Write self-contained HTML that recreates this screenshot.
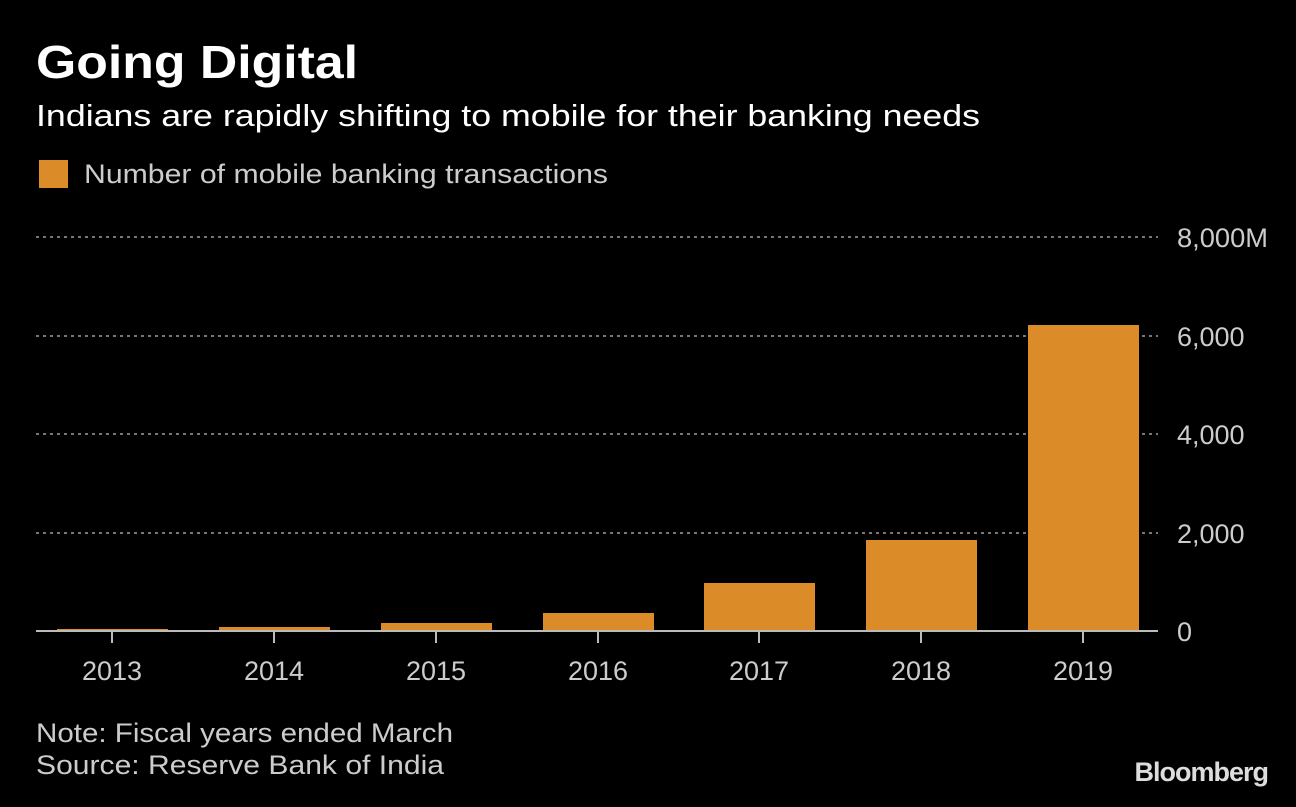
<!DOCTYPE html>
<html><head><style>
body{margin:0;background:#000;width:1296px;height:802px;overflow:hidden;font-family:"Liberation Sans",sans-serif;color:#ddd}
</style></head><body>
<svg width="1296" height="802" xmlns="http://www.w3.org/2000/svg" font-family="Liberation Sans, sans-serif">
<rect width="1296" height="802" fill="#000"/>
<text x="36" y="78" font-size="46" font-weight="bold" fill="#fff" textLength="322" lengthAdjust="spacingAndGlyphs">Going Digital</text>
<text x="36" y="126" font-size="31" fill="#fff" textLength="944" lengthAdjust="spacingAndGlyphs">Indians are rapidly shifting to mobile for their banking needs</text>
<rect x="39" y="160" width="29" height="28" fill="#db8b27"/>
<text x="84" y="183" font-size="27" fill="#ccc" textLength="524" lengthAdjust="spacingAndGlyphs">Number of mobile banking transactions</text>
<g stroke="#777" stroke-width="2" stroke-dasharray="3,4">
<line x1="36" y1="237" x2="1158" y2="237"/>
<line x1="36" y1="336" x2="1158" y2="336"/>
<line x1="36" y1="434" x2="1158" y2="434"/>
<line x1="36" y1="533" x2="1158" y2="533"/>
</g>
<g font-size="27" fill="#ccc">
<text x="1177" y="247" textLength="91" lengthAdjust="spacingAndGlyphs">8,000M</text>
<text x="1177" y="346">6,000</text>
<text x="1177" y="444">4,000</text>
<text x="1177" y="543">2,000</text>
<text x="1177" y="641">0</text>
</g>
<g fill="#db8b27">
<rect x="57" y="629" width="111" height="2"/>
<rect x="219" y="627" width="111" height="4"/>
<rect x="381" y="623" width="111" height="8"/>
<rect x="543" y="613" width="111" height="18"/>
<rect x="704" y="583" width="111" height="48"/>
<rect x="866" y="540" width="111" height="91"/>
<rect x="1028" y="325" width="111" height="306"/>
</g>
<line x1="36" y1="631" x2="1158" y2="631" stroke="#bbb" stroke-width="2"/>
<g stroke="#bbb" stroke-width="2">
<line x1="112" y1="631" x2="112" y2="643"/><line x1="274" y1="631" x2="274" y2="643"/>
<line x1="436" y1="631" x2="436" y2="643"/><line x1="598" y1="631" x2="598" y2="643"/>
<line x1="759" y1="631" x2="759" y2="643"/><line x1="921" y1="631" x2="921" y2="643"/>
<line x1="1083" y1="631" x2="1083" y2="643"/>
</g>
<g font-size="27" fill="#ccc" text-anchor="middle">
<text x="112" y="680">2013</text><text x="274" y="680">2014</text><text x="436" y="680">2015</text>
<text x="598" y="680">2016</text><text x="759" y="680">2017</text><text x="921" y="680">2018</text>
<text x="1083" y="680">2019</text>
</g>
<text x="36" y="742" font-size="27" fill="#ccc" textLength="417" lengthAdjust="spacingAndGlyphs">Note: Fiscal years ended March</text>
<text x="36" y="774" font-size="27" fill="#ccc" textLength="408" lengthAdjust="spacingAndGlyphs">Source: Reserve Bank of India</text>
<text x="1268" y="781" font-size="27" font-weight="bold" fill="#ddd" text-anchor="end" letter-spacing="-1">Bloomberg</text>
</svg>
</body></html>
